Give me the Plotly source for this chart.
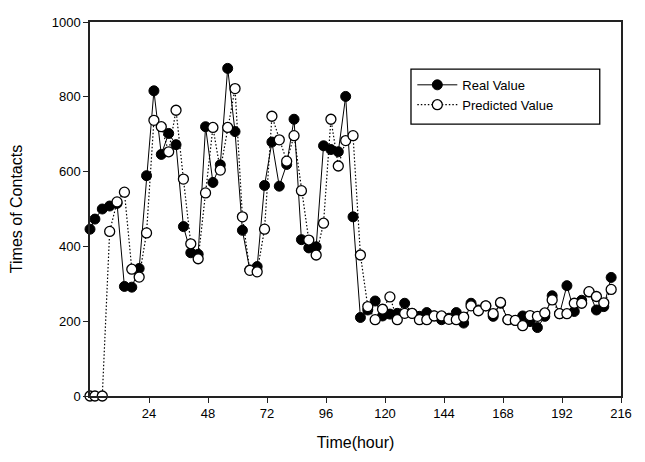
import plotly.graph_objects as go

hours = [0] + [2 + 3 * k for k in range(71)]

real_value = [446, 473, 500, 508, 515, 293, 291, 341, 589, 816,
              646, 702, 672, 453, 383, 379, 720, 571, 618, 876,
              707, 443, 337, 346, 563, 679, 561, 619, 740, 418,
              396, 399, 669, 659, 653, 801, 479, 210, 230, 254,
              214, 219, 221, 248, 221, 213, 223, 214, 204, 208,
              223, 195, 248, 230, 241, 213, 248, 204, 202, 214,
              199, 183, 213, 268, 220, 295, 226, 256, 278, 230,
              239, 317]

predicted_value = [0, 0, 0, 440, 519, 545, 339, 318, 436, 737,
                   720, 653, 764, 580, 407, 367, 543, 718, 604, 718,
                   822, 479, 336, 332, 446, 748, 685, 628, 696, 549,
                   417, 377, 462, 740, 615, 683, 696, 377, 239, 204,
                   232, 265, 204, 221, 221, 204, 204, 214, 214, 205,
                   204, 211, 241, 228, 241, 220, 250, 204, 202, 188,
                   215, 213, 222, 257, 220, 220, 248, 248, 279, 266,
                   249, 285]

x_ticks = [24, 48, 72, 96, 120, 144, 168, 192, 216]
y_ticks = [0, 200, 400, 600, 800, 1000]

FONT = "Liberation Sans, Arial, sans-serif"

fig = go.Figure()
fig.add_trace(go.Scatter(
    x=hours, y=real_value, name="Real Value", mode="lines+markers",
    line=dict(color="black", width=1),
    marker=dict(symbol="circle", size=10, color="black",
                line=dict(color="black", width=1)),
    cliponaxis=False,
))
fig.add_trace(go.Scatter(
    x=hours, y=predicted_value, name="Predicted Value", mode="lines+markers",
    line=dict(color="black", width=1.2, dash="1.5px,2px"),
    marker=dict(symbol="circle", size=10, color="white",
                line=dict(color="black", width=1.3)),
    cliponaxis=False,
))

# legend frame (plot area spans page px 90..621 x 15..396)
fig.add_shape(type="rect", xref="paper", yref="paper",
              x0=0.6045, x1=0.960, y0=0.727, y1=0.874,
              line=dict(color="black", width=1.3), fillcolor="rgba(0,0,0,0)")

fig.update_layout(
    width=637, height=454,
    margin=dict(l=82, r=24, t=7, b=66),
    paper_bgcolor="white", plot_bgcolor="white",
    font=dict(family=FONT, size=13, color="black"),
    showlegend=True,
    legend=dict(
        x=0.607, y=0.872, xanchor="left", yanchor="top",
        borderwidth=0, bgcolor="rgba(0,0,0,0)",
        font=dict(family=FONT, size=13, color="black"),
        tracegroupgap=0, itemwidth=40,
    ),
    xaxis=dict(
        range=[0, 216], tickmode="array", tickvals=x_ticks,
        ticktext=[str(t) for t in x_ticks],
        showgrid=False, zeroline=False,
        showline=True, linecolor="#222", linewidth=1.5, mirror=True,
        ticks="outside", ticklen=5, tickcolor="#222",
        tickfont=dict(size=13),
        title=dict(text="Time(hour)", font=dict(size=16), standoff=16),
    ),
    yaxis=dict(
        range=[0, 1000], tickmode="array", tickvals=y_ticks,
        showgrid=False, zeroline=False,
        showline=True, linecolor="#222", linewidth=1.5, mirror=True,
        ticks="outside", ticklen=5, tickcolor="#222",
        tickfont=dict(size=13),
        title=dict(text="Times of Contacts", font=dict(size=16), standoff=26),
    ),
)

fig.write_html("out.html")
